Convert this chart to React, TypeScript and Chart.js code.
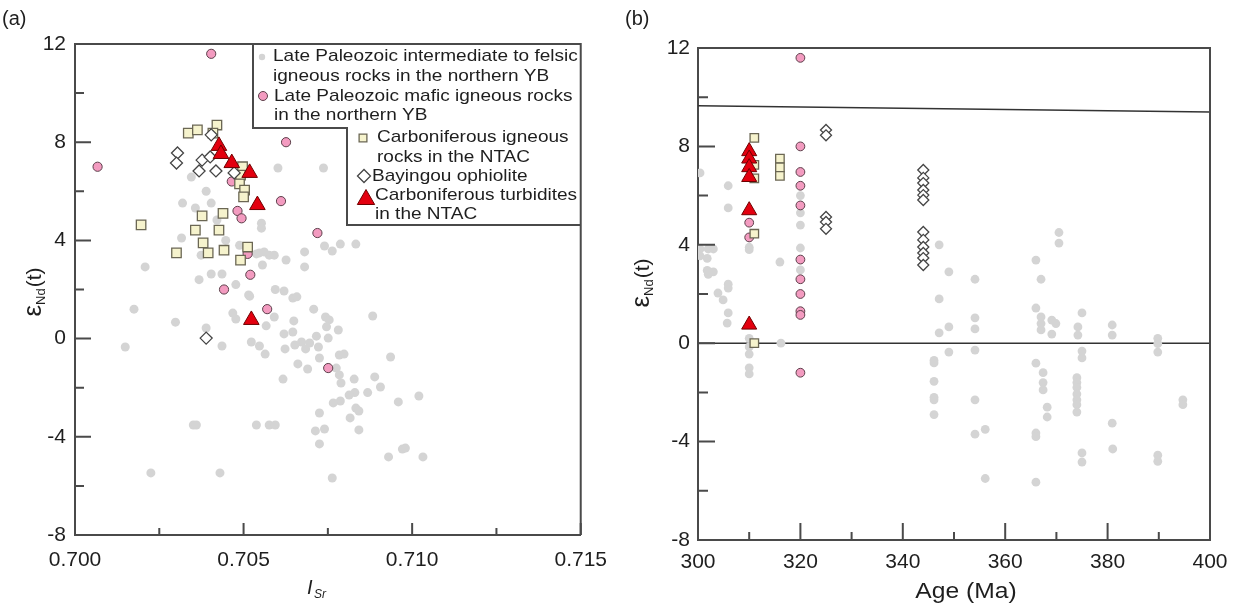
import React, { useEffect, useRef } from 'react';
import { Chart, registerables } from 'chart.js';
import { drawPoint } from 'chart.js/helpers';

Chart.register(...registerables);

// ---------------- Panel (a): I_Sr vs eNd(t) ----------------
const A_FELSIC_SR = [0.70345,0.70389,0.70319,0.70357,0.70404,0.70421,0.70553,0.70553,0.70316,0.70447,
  0.70488,0.70547,0.70576,0.70374,0.70208,0.70556,0.70404,0.70436,0.70368,0.70477,
  0.70515,0.70175,0.70298,0.70468,0.70477,0.70389,0.70602,0.70737,0.7074,0.70763,
  0.70787,0.70833,0.70681,0.70681,0.70626,0.70591,0.70561,0.70538,0.70518,0.70594,
  0.7062,0.70646,0.70658,0.70708,0.70883,0.70743,0.70754,0.70649,0.70591,0.70567,
  0.70746,0.70781,0.7062,0.70646,0.70716,0.70751,0.70523,0.70547,0.70672,0.70696,
  0.70652,0.70623,0.70684,0.70722,0.70564,0.70725,0.70784,0.70798,0.70936,0.70661,
  0.7069,0.70775,0.70784,0.70828,0.70889,0.70906,0.70617,0.70789,0.70868,0.7083,
  0.70813,0.70787,0.70766,0.70959,0.7102,0.70833,0.70842,0.70816,0.70725,0.70538,
  0.70576,0.70594,0.70713,0.7074,0.70842,0.70725,0.7093,0.70971,0.7098,0.71032,
  0.70763,0.70225,0.7043,0.70351,0.7036,0.70149,0.70436];
const A_FELSIC_ND = [6.58,6.0,5.52,5.32,5.52,4.83,4.7,4.5,4.1,4.0,
  3.8,3.49,3.4,3.4,2.92,3.0,2.63,2.63,2.4,2.2,
  1.78,1.2,0.67,1.04,0.8,0.43,6.95,6.95,3.77,3.57,
  3.85,3.85,3.53,2.92,3.2,3.4,3.53,3.45,1.73,2.0,
  1.94,1.65,1.7,1.2,0.92,0.88,0.76,0.72,0.88,0.52,
  0.48,0.35,0.19,0.27,0.1,0.02,-0.14,-0.3,-0.14,-0.18,
  -0.26,-0.42,-0.42,-0.34,-0.63,-0.79,-0.67,-0.63,-0.75,-1.03,
  -1.24,-1.2,-1.48,-1.65,-1.56,-1.97,-1.65,-1.81,-2.2,-2.2,
  -2.3,-2.54,-2.62,-2.58,-2.34,-2.83,-2.95,-3.23,-3.03,-3.52,
  -3.52,-3.52,-3.76,-3.68,-3.72,-4.29,-4.82,-4.5,-4.46,-4.82,
  -5.68,-5.47,-5.47,-3.52,-3.52,-0.34,-0.3];

const A_MAFIC_SR = [0.70067,0.70404,0.70626,0.70465,0.70611,0.70482,0.70494,0.70719,0.70512,0.7052,0.70442,0.7057,0.70751];
const A_MAFIC_ND = [7.0,11.6,8.0,6.4,5.6,5.2,4.9,4.3,3.45,2.6,2.0,1.2,-1.2];

const A_CARB_SR = [0.70336,0.70363,0.70421,0.70409,0.70497,0.70491,0.70488,0.70503,0.705,0.70196,
  0.70377,0.70439,0.70357,0.70427,0.7038,0.70395,0.70301,0.70442,0.70512,0.70491];
const A_CARB_ND = [8.37,8.5,8.7,8.37,7.0,6.66,6.3,6.05,5.77,4.63,
  5.0,5.1,4.42,4.42,3.9,3.49,3.49,3.6,3.73,3.2];

const A_OPH_SR = [0.70304,0.70301,0.70377,0.70401,0.70368,0.70418,0.70472,0.70389,0.70404];
const A_OPH_ND = [7.56,7.15,7.27,7.4,6.83,6.83,6.75,0.02,8.3];

const A_TURB_SR = [0.70427,0.70433,0.70465,0.70518,0.70541,0.70523];
const A_TURB_ND = [7.85,7.52,7.15,6.75,5.44,0.76];

const A_X_TICKS = [0.7, 0.705, 0.71, 0.715];
const A_X_MINOR = [0.7025, 0.7075, 0.7125];

// ---------------- Panel (b): Age vs eNd(t) ----------------
const B_FELSIC_AGE = [300.4,305.9,305.9,300.4,302.0,303.0,300.4,301.8,301.8,303.0,
  302.0,305.9,305.9,303.9,304.9,305.9,305.7,310,310,310,
  310,310,310,310,316.2,316,320,320,320,320,
  320,347.1,349,354.1,347.1,349,347.1,354.1,354.1,349,
  354.1,346.1,346.1,346.1,346.1,346.1,346.1,354.1,356.1,354.1,
  356.1,366,367,370.5,370.5,366,367,367,367,369.1,
  369.9,369.1,375,374.2,374.2,375,375,380.9,380.9,389.8,
  389.8,389.8,366,367.4,367.4,367.4,368.2,368.2,374,374,
  374,374,374,374,374,394.7,394.7,380.9,381,366,
  366,366,375,375,389.8,389.8];
const B_FELSIC_ND = [6.92,6.4,5.5,3.83,3.83,3.83,3.55,3.45,2.96,2.9,
  2.8,2.4,2.24,2.04,1.76,1.23,0.82,3.9,3.8,0.2,
  -0.15,-0.44,-1.0,-1.25,0.0,3.3,6.0,5.3,4.8,3.87,
  2.98,4.0,2.9,2.6,1.8,0.66,0.42,1.03,0.58,-0.36,
  -0.28,-0.7,-0.8,-1.55,-2.2,-2.3,-2.9,-2.3,-3.5,-3.7,
  -5.5,3.38,2.6,4.5,4.07,1.43,1.07,0.8,0.54,0.94,
  0.8,0.37,1.23,0.66,0.33,-0.32,-0.6,0.74,0.33,0.2,
  -0.02,-0.36,-0.81,-1.2,-1.6,-1.9,-2.6,-3.0,-1.4,-1.6,
  -1.8,-2.07,-2.3,-2.5,-2.8,-2.3,-2.5,-3.25,-4.3,-3.65,
  -3.8,-5.65,-4.46,-4.83,-4.55,-4.8];

const B_MAFIC_AGE = [320,320,320,320,320,320,320,320,320,320,320,310,310];
const B_MAFIC_ND = [11.6,8.0,6.96,6.4,5.6,3.4,2.6,2.0,1.3,1.15,-1.2,4.9,4.3];

const B_CARB_AGE = [311,311,311,311,311,316,316,316];
const B_CARB_ND = [8.35,7.25,6.7,4.45,0.0,7.5,7.15,6.8];

const B_OPH_AGE = [325,325,325,325,325,344,344,344,344,344,344,344,344,344,344,344,344];
const B_OPH_ND = [8.67,8.45,5.13,4.93,4.65,7.04,6.72,6.51,6.23,6.02,5.82,4.52,4.2,3.91,3.67,3.46,3.18];

const B_TURB_AGE = [310,310,310,310,310,310];
const B_TURB_ND = [7.8,7.5,7.15,6.75,5.4,0.75];

const DM_AGE = [300, 400];
const DM_ND = [9.65, 9.4];
const CHUR_AGE = [300, 400];
const CHUR_ND = [0, 0];

const B_X_TICKS = [300, 320, 340, 360, 380, 400];
const B_X_MINOR = [310, 330, 350, 370, 390];

const Y_TICKS = [-8, -4, 0, 4, 8, 12];
const Y_MINOR = [-6, -2, 2, 6, 10];

const LEGEND_LINES = [
  ['Late Paleozoic intermediate to felsic', 'igneous rocks in the northern YB'],
  ['Late Paleozoic mafic igneous rocks', 'in the northern YB'],
  ['Carboniferous igneous', 'rocks in the NTAC'],
  ['Bayingou ophiolite'],
  ['Carboniferous turbidites', 'in the NTAC'],
];

// ---------------- styles ----------------
const FONT = "'Liberation Sans', Arial, Helvetica, sans-serif";
const AXIS_COLOR = '#4a4a4a';
const TEXT_COLOR = '#1e1e1e';

const GRAY = { pointStyle: 'circle', backgroundColor: '#d4d4d4', borderColor: '#d4d4d4', borderWidth: 0 };
const PINK = { pointStyle: 'circle', backgroundColor: '#f39bc0', borderColor: '#5c3f4a', borderWidth: 1 };
const SQUARE = { pointStyle: 'rect', backgroundColor: '#f6f3cd', borderColor: '#6b6754', borderWidth: 1.3 };
const DIAMOND = { pointStyle: 'rectRot', backgroundColor: '#ffffff', borderColor: '#454545', borderWidth: 1.3 };
const TRIANGLE = { pointStyle: 'triangle', backgroundColor: '#e3000f', borderColor: '#6e0000', borderWidth: 1 };

const zip = (xs: number[], ys: number[]) => xs.map((x, i) => ({ x, y: ys[i] }));

function pointDataset(label: string, xs: number[], ys: number[], style: any, radius: number, order: number) {
  return {
    label,
    data: zip(xs, ys),
    pointStyle: style.pointStyle,
    pointRadius: radius,
    pointBackgroundColor: style.backgroundColor,
    pointBorderColor: style.borderColor,
    pointBorderWidth: style.borderWidth,
    backgroundColor: style.backgroundColor,
    borderColor: style.borderColor,
    showLine: false,
    order,
  };
}

function drawInnerTicks(ctx: CanvasRenderingContext2D, chart: any, xMaj: number[], xMin: number[], lens: number[]) {
  const { chartArea: ca, scales } = chart;
  const x = scales.x, y = scales.y;
  ctx.save();
  ctx.strokeStyle = AXIS_COLOR;
  ctx.lineWidth = 2;
  ctx.beginPath();
  for (const v of Y_TICKS) { const p = y.getPixelForValue(v); ctx.moveTo(ca.left, p); ctx.lineTo(ca.left + lens[0], p); }
  for (const v of Y_MINOR) { const p = y.getPixelForValue(v); ctx.moveTo(ca.left, p); ctx.lineTo(ca.left + lens[1], p); }
  for (const v of xMaj) { const p = x.getPixelForValue(v); ctx.moveTo(p, ca.bottom); ctx.lineTo(p, ca.bottom - lens[2]); }
  for (const v of xMin) { const p = x.getPixelForValue(v); ctx.moveTo(p, ca.bottom); ctx.lineTo(p, ca.bottom - lens[3]); }
  ctx.stroke();
  ctx.restore();
}

function drawEpsTitle(ctx: CanvasRenderingContext2D, cx: number, cy: number) {
  ctx.save();
  ctx.translate(cx, cy);
  ctx.rotate(-Math.PI / 2);
  ctx.fillStyle = TEXT_COLOR;
  ctx.textBaseline = 'alphabetic';
  ctx.textAlign = 'left';
  const fEps = `26px ${FONT}`, fSub = `13px ${FONT}`, fMain = `21px ${FONT}`;
  ctx.font = fEps; const wE = ctx.measureText('ε').width;
  ctx.font = fSub; const wN = ctx.measureText('Nd').width;
  ctx.font = fMain; const wT = ctx.measureText('(t)').width;
  let x0 = -(wE + wN + 1 + wT) / 2;
  const base = 7;
  ctx.font = fEps; ctx.fillText('ε', x0, base); x0 += wE;
  ctx.font = fSub; ctx.fillText('Nd', x0, base + 4); x0 += wN + 1;
  ctx.font = fMain; ctx.fillText('(t)', x0, base);
  ctx.restore();
}

function stretchedText(ctx: CanvasRenderingContext2D, text: string, x: number, y: number, font: string, sx: number, align: 'left' | 'center' = 'left') {
  ctx.save();
  ctx.font = font;
  ctx.translate(x, y);
  ctx.scale(sx, 1);
  ctx.textAlign = align;
  ctx.fillText(text, 0, 0);
  ctx.restore();
}

// legend layout (offsets from chart area's top-left)
const LEGEND_LAYOUT = [
  { style: GRAY, r: 3.2, mx: 187, my: 13, tx: 198, ty: [12, 32] },
  { style: PINK, r: 4.5, mx: 188, my: 52, tx: 199, ty: [52, 71] },
  { style: SQUARE, r: 5.5, mx: 288, my: 94, tx: 302, ty: [93, 113] },
  { style: DIAMOND, r: 6.5, mx: 289, my: 132, tx: 297, ty: [132] },
  { style: TRIANGLE, r: 10, mx: 291, my: 155.5, tx: 300, ty: [151, 170] },
];

const panelAPlugin = {
  id: 'panelA',
  afterDraw(chart: any) {
    const { ctx, chartArea: ca } = chart;
    drawInnerTicks(ctx, chart, A_X_TICKS, A_X_MINOR, [16, 9, 12, 7]);
    ctx.save();
    ctx.strokeStyle = AXIS_COLOR;
    ctx.lineWidth = 2;
    ctx.beginPath();
    ctx.moveTo(ca.left, ca.top); ctx.lineTo(ca.right, ca.top); ctx.lineTo(ca.right, ca.bottom);
    const L = ca.left + 178, S = ca.left + 272, M = ca.top + 84, B = ca.top + 181;
    ctx.moveTo(L, ca.top); ctx.lineTo(L, M); ctx.lineTo(S, M); ctx.lineTo(S, B); ctx.lineTo(ca.right, B);
    ctx.stroke();

    // legend
    LEGEND_LAYOUT.forEach((e, i) => {
      ctx.save();
      ctx.fillStyle = e.style.backgroundColor;
      ctx.strokeStyle = e.style.borderColor;
      ctx.lineWidth = e.style.borderWidth;
      drawPoint(ctx, { pointStyle: e.style.pointStyle, radius: e.r, rotation: 0, borderWidth: e.style.borderWidth } as any, ca.left + e.mx, ca.top + e.my);
      ctx.restore();
      ctx.fillStyle = TEXT_COLOR;
      ctx.textBaseline = 'middle';
      LEGEND_LINES[i].forEach((t, j) => stretchedText(ctx, t, ca.left + e.tx, ca.top + e.ty[j], `17px ${FONT}`, 1.12));
    });

    // labels
    ctx.fillStyle = TEXT_COLOR;
    ctx.textBaseline = 'middle';
    ctx.textAlign = 'left';
    ctx.font = `20px ${FONT}`;
    ctx.fillText('(a)', 2, 19);
    ctx.textBaseline = 'alphabetic';
    ctx.font = `italic 20px ${FONT}`;
    ctx.fillText('I', 307, 594);
    ctx.font = `italic 12px ${FONT}`;
    ctx.fillText('Sr', 314, 598);
    drawEpsTitle(ctx, 34, 292);
    ctx.restore();
  },
};

const panelBPlugin = {
  id: 'panelB',
  afterDraw(chart: any) {
    const { ctx, chartArea: ca } = chart;
    drawInnerTicks(ctx, chart, B_X_TICKS, B_X_MINOR, [17, 10, 17, 8]);
    ctx.save();
    ctx.strokeStyle = AXIS_COLOR;
    ctx.lineWidth = 2;
    ctx.beginPath();
    ctx.moveTo(ca.left, ca.top); ctx.lineTo(ca.right, ca.top); ctx.lineTo(ca.right, ca.bottom);
    ctx.stroke();
    ctx.fillStyle = TEXT_COLOR;
    ctx.textBaseline = 'middle';
    ctx.textAlign = 'left';
    ctx.font = `20px ${FONT}`;
    ctx.fillText('(b)', 5, 19);
    ctx.textBaseline = 'alphabetic';
    stretchedText(ctx, 'Age (Ma)', (ca.left + ca.right) / 2 + 12, 598, `22px ${FONT}`, 1.12, 'center');
    drawEpsTitle(ctx, 22, 283);
    ctx.restore();
  },
};

function axisCommon(extra: any) {
  return {
    type: 'linear',
    grid: { display: true, drawOnChartArea: false, drawTicks: false },
    border: { display: true, color: AXIS_COLOR, width: 2 },
    ...extra,
  };
}

function makeConfig(panel: 'a' | 'b'): any {
  const isA = panel === 'a';
  const datasets: any[] = isA
    ? [
        pointDataset(LEGEND_LINES[4][0], A_TURB_SR, A_TURB_ND, TRIANGLE, 9, 0),
        pointDataset(LEGEND_LINES[3][0], A_OPH_SR, A_OPH_ND, DIAMOND, 6, 1),
        pointDataset(LEGEND_LINES[2][0], A_CARB_SR, A_CARB_ND, SQUARE, 6.7, 2),
        pointDataset(LEGEND_LINES[1][0], A_MAFIC_SR, A_MAFIC_ND, PINK, 4.6, 3),
        pointDataset(LEGEND_LINES[0][0], A_FELSIC_SR, A_FELSIC_ND, GRAY, 4.5, 4),
      ]
    : [
        pointDataset(LEGEND_LINES[4][0], B_TURB_AGE, B_TURB_ND, TRIANGLE, 8.7, 0),
        pointDataset(LEGEND_LINES[3][0], B_OPH_AGE, B_OPH_ND, DIAMOND, 5.5, 1),
        pointDataset(LEGEND_LINES[2][0], B_CARB_AGE, B_CARB_ND, SQUARE, 6, 2),
        pointDataset(LEGEND_LINES[1][0], B_MAFIC_AGE, B_MAFIC_ND, PINK, 4.4, 3),
        pointDataset(LEGEND_LINES[0][0], B_FELSIC_AGE, B_FELSIC_ND, GRAY, 4.4, 4),
        { label: 'DM', data: zip(DM_AGE, DM_ND), showLine: true, pointRadius: 0, borderColor: '#333', borderWidth: 1.6, fill: false, order: 5 },
        { label: 'CHUR', data: zip(CHUR_AGE, CHUR_ND), showLine: true, pointRadius: 0, borderColor: '#333', borderWidth: 1.6, fill: false, order: 5 },
      ];
  const xTicks = isA ? A_X_TICKS : B_X_TICKS;
  const tickFont = { family: FONT, size: 21 };
  return {
    type: 'scatter',
    data: { datasets },
    options: {
      animation: false,
      responsive: false,
      devicePixelRatio: 1,
      events: [],
      layout: { padding: isA ? { left: 0, top: 44, right: 34, bottom: 0 } : { left: 0, top: 48, right: 29, bottom: 0 } },
      plugins: { legend: { display: false }, tooltip: { enabled: false }, title: { display: false } },
      scales: {
        x: axisCommon({
          min: isA ? 0.7 : 300,
          max: isA ? 0.715 : 400,
          afterBuildTicks: (s: any) => { s.ticks = xTicks.map((v) => ({ value: v })); },
          afterFit: (s: any) => { s.height = isA ? 73 : 68; },
          ticks: {
            font: tickFont, color: TEXT_COLOR, padding: isA ? 13 : 10, maxRotation: 0, autoSkip: false,
            callback: (v: any) => (isA ? Number(v).toFixed(3) : String(Math.round(Number(v)))),
          },
        }),
        y: axisCommon({
          min: -8,
          max: 12,
          afterBuildTicks: (s: any) => { s.ticks = Y_TICKS.map((v) => ({ value: v })); },
          afterFit: (s: any) => { s.width = isA ? 75 : 78; },
          ticks: { font: tickFont, color: TEXT_COLOR, padding: isA ? 9 : 8, callback: (v: any) => String(v) },
        }),
      },
    },
    plugins: [isA ? panelAPlugin : panelBPlugin],
  };
}

function Panel({ panel, left, width }: { panel: 'a' | 'b'; left: number; width: number }) {
  const ref = useRef<HTMLCanvasElement>(null);
  useEffect(() => {
    const chart = new Chart(ref.current as HTMLCanvasElement, makeConfig(panel));
    return () => chart.destroy();
  }, [panel]);
  return (
    <canvas
      ref={ref}
      width={width}
      height={608}
      style={{ position: 'absolute', left, top: 0, width, height: 608 }}
    />
  );
}

export default function App() {
  return (
    <div style={{ position: 'absolute', left: 0, top: 0, width: 1239, height: 608, background: '#ffffff', overflow: 'hidden' }}>
      <Panel panel="a" left={0} width={620} />
      <Panel panel="b" left={620} width={619} />
    </div>
  );
}
